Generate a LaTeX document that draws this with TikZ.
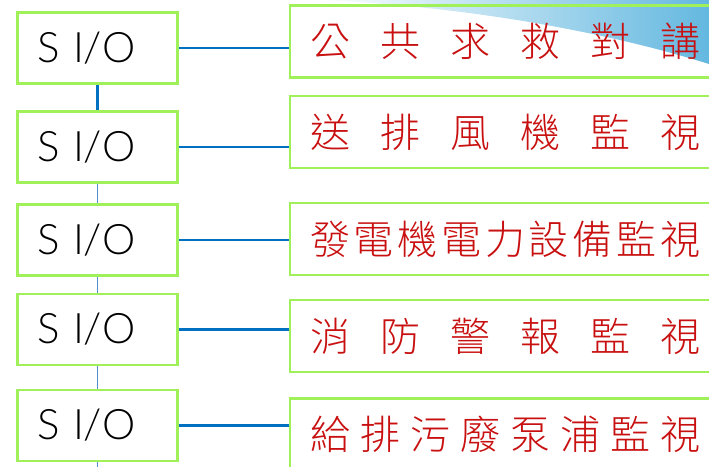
\documentclass[tikz,border=0pt]{standalone}
\usepackage{fontspec}
\newfontfamily\siofont{Lato}[UprightFont=* Light]
\newfontfamily\cjk{Noto Sans CJK TC}[UprightFont=* Light]
\definecolor{boxgreen}{RGB}{160,240,90}
\definecolor{linkblue}{RGB}{0,112,192}
\definecolor{linkpale}{RGB}{85,140,205}
\definecolor{labelred}{RGB}{200,16,16}
\definecolor{sky}{RGB}{100,184,224}
\tikzset{
    sio/.style={draw=boxgreen, line width=2.2pt, minimum height=71pt,
    	text width=120pt, inner xsep=20pt, align=left,
    	font=\siofont\fontsize{42}{42}\selectfont}
}
\tikzset{
    mon/.style={draw=boxgreen, line width=2.2pt, minimum height=72pt,
    	anchor=west, text width=430pt, inner xsep=20pt, align=left,
    	text=labelred, font=\cjk\fontsize{40}{40}\selectfont}
}
\tikzset{
    link/.style={draw=linkblue, line width=2.4pt},
    thin link/.style={draw=linkpale, line width=1.6pt}
}
\newcommand{\spread}[1]{\makebox[390pt][s]{#1}}

\begin{document}
\begin{tikzpicture}[x=1pt,y=-1pt]
	\useasboundingbox (0,0) rectangle (709,466);
	\clip (0,0) rectangle (709,466);
	\shade[left color=white, right color=sky]
		(320,0) .. controls (460,6) and (600,30) .. (709,64) -- (709,0) -- cycle;
	\node [sio] (sio1) at (97.5,48) {S I\kern-1pt/O};
	\node [sio] (sio2) at (97.5,147) {S I\kern-1pt/O};
	\node [sio] (sio3) at (97.5,240) {S I\kern-1pt/O};
	\node [sio] (sio4) at (97.5,329.5) {S I\kern-1pt/O};
	\node [sio] (sio5) at (97.5,425.5) {S I\kern-1pt/O};
	\coordinate (tail) at (97.5,470);
	\node [mon] (mon1) at (289,41.5) {\spread{公\hfill 共\hfill 求\hfill 救\hfill 對\hfill 講}};
	\node [mon] (mon2) at (289,132) {\spread{送\hfill 排\hfill 風\hfill 機\hfill 監\hfill 視}};
	\node [mon] (mon3) at (289,239) {\spread{發\hfill 電\hfill 機\hfill 電\hfill 力\hfill 設\hfill 備\hfill 監\hfill 視}};
	\node [mon] (mon4) at (289,336) {\spread{消\hfill 防\hfill 警\hfill 報\hfill 監\hfill 視}};
	\node [mon] (mon5) at (289,434.5) {\spread{給\hfill 排\hfill 污\hfill 廢\hfill 泵\hfill 浦\hfill 監\hfill 視}};
	\draw [link] (sio1) edge (sio2);
	\draw [thin link] (sio2) edge (sio3); \draw [thin link] (sio3) edge (sio4);
	\draw [thin link] (sio4) edge (sio5); \draw [thin link] (sio5) edge (tail);
	\draw [link] (sio1.east) edge (sio1.east -| mon1.west);
	\draw [link] (sio2.east) edge (sio2.east -| mon2.west);
	\draw [link] (sio3.east) edge (sio3.east -| mon3.west);
	\draw [link] (sio4.east) edge (sio4.east -| mon4.west);
	\draw [link] (sio5.east) edge (sio5.east -| mon5.west);
\end{tikzpicture}
\end{document}
